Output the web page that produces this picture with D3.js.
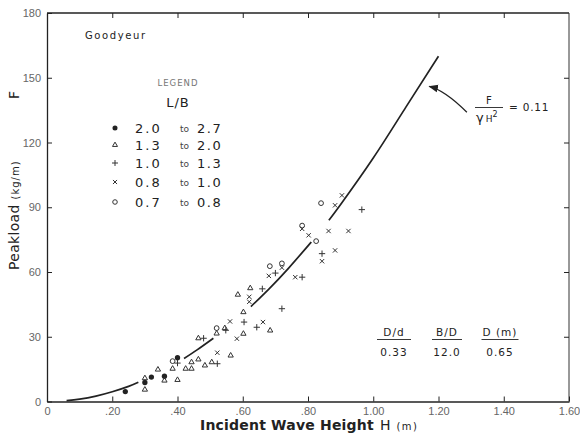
<!DOCTYPE html>
<html><head><meta charset="utf-8">
<script src="https://cdn.jsdelivr.net/npm/d3@7"></script>
<style>
html,body{margin:0;padding:0;background:#fff;}
svg{display:block;font-family:"DejaVu Sans",sans-serif;}
</style></head>
<body>
<svg id="chart" width="580" height="435"></svg>
<script>
// ---------- data ----------
const xTicks = [0, 0.2, 0.4, 0.6, 0.8, 1.0, 1.2, 1.4, 1.6];
const xTickLabels = ["0", ".20", ".40", ".60", ".80", "1.00", "1.20", "1.40", "1.60"];
const yTicks = [0, 30, 60, 90, 120, 150, 180];
const yTickLabels = ["0", "30", "60", "90", "120", "150", "180"];

const seriesNames = ["2.0 to 2.7", "1.3 to 2.0", "1.0 to 1.3", "0.8 to 1.0", "0.7 to 0.8"];
const rangeLow = ["2.0", "1.3", "1.0", "0.8", "0.7"];
const rangeHigh = ["2.7", "2.0", "1.3", "1.0", "0.8"];

// L/B 2.0 - 2.7 (filled circle)
const lb20_27 = [[0.24,4.6],[0.30,8.8],[0.32,11.3],[0.36,11.7],[0.40,20.3]];
// L/B 1.3 - 2.0 (triangle)
const lb13_20 = [[0.30,10.8],[0.30,5.5],[0.34,14.8],[0.36,9.7],[0.40,10.0],[0.385,15.2],
  [0.425,15.2],[0.443,15.2],[0.443,18.2],[0.464,19.5],[0.484,16.7],[0.505,18.2],[0.563,21.3],
  [0.464,29.3],[0.52,31.5],[0.545,34.0],[0.602,31.4],[0.602,41.4],[0.585,49.5],[0.623,52.5],[0.684,32.9]];
// L/B 1.0 - 1.3 (plus)
const lb10_13 = [[0.40,17.8],[0.48,29.3],[0.522,17.5],[0.548,33.0],[0.604,36.8],[0.643,34.4],
  [0.66,52.2],[0.70,59.5],[0.72,43.0],[0.782,57.6],[0.843,68.5],[0.965,88.9]];
// L/B 0.8 - 1.0 (x)
const lb08_10 = [[0.522,22.6],[0.561,37.1],[0.582,29.1],[0.62,46.2],[0.62,48.5],[0.662,36.8],
  [0.68,58.2],[0.72,62.0],[0.761,57.6],[0.782,80.0],[0.802,77.0],[0.863,79.0],[0.924,79.0],
  [0.883,70.0],[0.843,65.0],[0.883,90.9],[0.904,95.5]];
// L/B 0.7 - 0.8 (open circle)
const lb07_08 = [[0.385,18.7],[0.52,34.0],[0.683,62.7],[0.72,64.0],[0.782,81.5],[0.825,74.3],[0.84,91.9]];

// fitted curve F/(gamma H^2) = 0.11, drawn in broken segments
const curveSeg1 = [[0.06,0.4],[0.10,1.1],[0.15,2.5],[0.20,4.5],[0.25,7.0],[0.28,8.9]];
const curveSeg2 = [[0.42,19.9],[0.46,23.9],[0.51,29.3]];
const curveSeg3 = [[0.625,44.0],[0.68,52.1],[0.74,61.7],[0.81,73.9]];
const curveSeg4 = [[0.864,84.0],[0.90,91.3],[1.00,112.8],[1.10,136.4],[1.20,160.0]];

// ---------- layout ----------
const svg = d3.select("#chart");
const L = 47, R = 569, T = 13, B = 401.5;
const x = d3.scaleLinear().domain([0, 1.6]).range([L, R]);
const y = d3.scaleLinear().domain([0, 180]).range([B, T]);
const ink = "#222";

// frame
const g = svg.append("g");
g.append("line").attr("x1",L).attr("x2",R).attr("y1",T).attr("y2",T).attr("stroke",ink).attr("stroke-width",1.4);
g.append("line").attr("x1",R).attr("x2",R).attr("y1",T).attr("y2",B).attr("stroke","#333").attr("stroke-width",1);

// axes (ticks inward)
const xAxis = d3.axisBottom(x).tickValues(xTicks).tickSize(-5).tickSizeOuter(0)
  .tickFormat((d,i)=>xTickLabels[i]).tickPadding(5);
const yAxis = d3.axisLeft(y).tickValues(yTicks).tickSize(-5).tickSizeOuter(0)
  .tickFormat((d,i)=>yTickLabels[i]).tickPadding(6);
const gx = svg.append("g").attr("transform",`translate(0,${B})`).call(xAxis);
const gy = svg.append("g").attr("transform",`translate(${L},0)`).call(yAxis);
[gx, gy].forEach(a=>{
  a.select(".domain").attr("stroke",ink).attr("stroke-width",1.3);
  a.selectAll(".tick line").attr("stroke",ink);
  a.selectAll(".tick text").attr("fill","#666").attr("font-size",11)
   .attr("font-family","'Liberation Sans',sans-serif");
});
gx.selectAll(".tick text").attr("dy","0.75em");
// top and right inward ticks
const topAxis = d3.axisTop(x).tickValues(xTicks.slice(1,-1)).tickSize(-5).tickFormat("");
const rightAxis = d3.axisRight(y).tickValues(yTicks.slice(1,-1)).tickSize(-5).tickFormat("");
const gt = svg.append("g").attr("transform",`translate(0,${T})`).call(topAxis);
const gr = svg.append("g").attr("transform",`translate(${R},0)`).call(rightAxis);
[gt, gr].forEach(a=>{ a.select(".domain").remove(); a.selectAll(".tick line").attr("stroke",ink); });

// curve segments
const line = d3.line().x(d=>x(d[0])).y(d=>y(d[1])).curve(d3.curveNatural);
[curveSeg1, curveSeg2, curveSeg3, curveSeg4].forEach(seg=>{
  svg.append("path").attr("d", line(seg)).attr("fill","none").attr("stroke",ink).attr("stroke-width",1.7);
});

// markers
const symDefs = [
  {data: lb20_27, type: d3.symbolCircle, size: 22, fill: ink, stroke: "none"},
  {data: lb13_20, type: d3.symbolTriangle2, size: 20, fill: "none", stroke: "#333"},
  {data: lb10_13, type: d3.symbolPlus, size: 15, fill: "none", stroke: "#333"},
  {data: lb08_10, type: d3.symbolTimes, size: 14, fill: "none", stroke: "#333"},
  {data: lb07_08, type: d3.symbolCircle, size: 18, fill: "none", stroke: "#333"}
];
symDefs.forEach(s=>{
  svg.append("g").selectAll("path").data(s.data).join("path")
    .attr("transform", d=>`translate(${x(d[0])},${y(d[1])})`)
    .attr("d", d3.symbol().type(s.type).size(s.size))
    .attr("fill", s.fill).attr("stroke", s.stroke).attr("stroke-width", 1);
});

// axis titles
const xt = svg.append("text").attr("x", 200).attr("y", 430).attr("fill", ink)
  .attr("font-family","'DejaVu Sans',sans-serif");
xt.append("tspan").attr("font-size",14).attr("font-weight","bold").attr("letter-spacing",0.2).text("Incident Wave Height");
xt.append("tspan").attr("font-size",14).attr("dx",6).text("H");
xt.append("tspan").attr("font-size",10).attr("dx",6).attr("letter-spacing",1.5).text("(m)");

const yt = svg.append("text").attr("transform","translate(19,270) rotate(-90)").attr("fill", ink);
yt.append("tspan").attr("font-size",14).attr("letter-spacing",0.3).text("Peakload");
yt.append("tspan").attr("font-size",10).attr("dx",5).attr("letter-spacing",1).text("(kg/m)");
svg.append("text").attr("transform","translate(19,99) rotate(-90)").attr("fill",ink)
  .attr("font-size",14).text("F");

// legend
svg.append("text").attr("x",85).attr("y",39).attr("font-size",10).attr("letter-spacing",1.6).attr("fill",ink).text("Goodyeur");
svg.append("text").attr("x",178).attr("y",86).attr("text-anchor","middle").attr("font-size",8.5)
  .attr("letter-spacing",1).attr("fill","#777").text("LEGEND");
svg.append("text").attr("x",178).attr("y",107).attr("text-anchor","middle").attr("font-size",13)
  .attr("letter-spacing",1).attr("fill",ink).text("L/B");
const rowY = [128, 145, 163, 182, 202];
symDefs.forEach((s,i)=>{
  svg.append("path").attr("transform",`translate(115,${rowY[i]})`)
    .attr("d", d3.symbol().type(s.type).size(s.size*0.9))
    .attr("fill", s.fill).attr("stroke", s.stroke).attr("stroke-width",1);
  svg.append("text").attr("x",135).attr("y",rowY[i]+5).attr("font-size",13).attr("letter-spacing",2)
    .attr("fill",ink).text(rangeLow[i]);
  svg.append("text").attr("x",180).attr("y",rowY[i]+4).attr("font-size",9).attr("fill","#444").text("to");
  svg.append("text").attr("x",197).attr("y",rowY[i]+5).attr("font-size",13).attr("letter-spacing",1.5)
    .attr("fill",ink).text(rangeHigh[i]);
});

// annotation F/(γH²) = 0.11 with arrow
svg.append("defs").append("marker").attr("id","ah").attr("viewBox","0 0 10 10").attr("refX",9).attr("refY",5)
  .attr("markerWidth",8).attr("markerHeight",8).attr("orient","auto-start-reverse")
  .append("path").attr("d","M0,1 L10,5 L0,9 z").attr("fill",ink);
const tail = [x(1.287), y(134)], head = [x(1.172), y(146)];
svg.append("path").attr("d",`M${tail[0]},${tail[1]} Q${tail[0]-22},${head[1]+4} ${head[0]},${head[1]}`)
  .attr("fill","none").attr("stroke",ink).attr("stroke-width",1.2).attr("marker-end","url(#ah)");
svg.append("text").attr("x",489).attr("y",104).attr("text-anchor","middle").attr("font-size",10).attr("fill",ink).text("F");
svg.append("line").attr("x1",475).attr("x2",503).attr("y1",107.5).attr("y2",107.5).attr("stroke",ink).attr("stroke-width",0.9);
const gh = svg.append("text").attr("x",476).attr("y",122).attr("fill",ink);
gh.append("tspan").attr("font-size",13).text("γ");
gh.append("tspan").attr("font-size",9).attr("dx",2).text("H");
gh.append("tspan").attr("font-size",8).attr("dy",-5).text("2");
svg.append("text").attr("x",509).attr("y",111).attr("font-size",10.5).attr("letter-spacing",0.8).attr("fill",ink).text("= 0.11");

// parameter table
const tabHead = ["D/d", "B/D", "D (m)"];
const tabVal = ["0.33", "12.0", "0.65"];
const tabX = [394, 447, 500];
const tabW = [34, 30, 37];
tabHead.forEach((h,i)=>{
  svg.append("text").attr("x",tabX[i]).attr("y",336).attr("text-anchor","middle").attr("font-size",10.5)
    .attr("letter-spacing",1).attr("fill",ink).text(h);
  svg.append("line").attr("x1",tabX[i]-tabW[i]/2).attr("x2",tabX[i]+tabW[i]/2).attr("y1",339.5).attr("y2",339.5)
    .attr("stroke",ink).attr("stroke-width",0.9);
  svg.append("text").attr("x",tabX[i]).attr("y",356).attr("text-anchor","middle").attr("font-size",10.5)
    .attr("letter-spacing",1).attr("fill",ink).text(tabVal[i]);
});
</script>
</body></html>
